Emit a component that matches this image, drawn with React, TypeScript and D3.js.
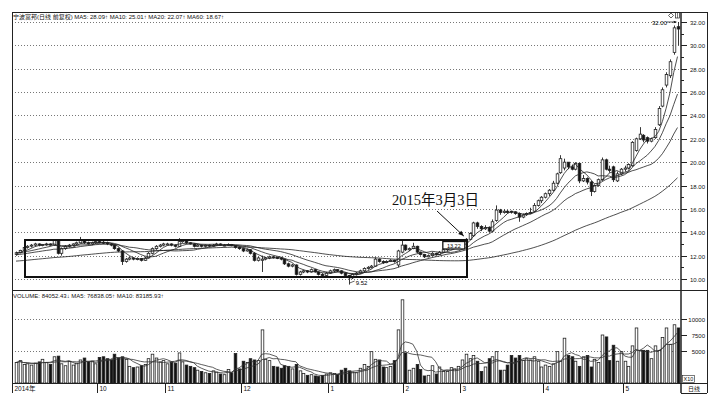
import React from "react";
import * as d3 from "d3";

// closes before the first visible bar (Jun-Aug 2014), only used to warm up the MAs
const preCloses = [
  11.0, 11.1, 11.05, 10.95, 11.0, 11.1, 11.15, 11.05, 11.1, 11.2,
  11.15, 11.1, 11.2, 11.25, 11.2, 11.15, 11.1, 11.2, 11.3, 11.25,
  11.2, 11.3, 11.35, 11.3, 11.25, 11.3, 11.4, 11.35, 11.3, 11.4,
  11.45, 11.5, 11.4, 11.35, 11.45, 11.5, 11.55, 11.5, 11.45, 11.6,
  11.7, 11.8, 11.9, 11.85, 11.95, 12.0, 11.9, 12.05, 12.1, 12.0,
  12.15, 12.2, 12.1, 12.25, 12.3, 12.2, 12.15, 12.3, 12.2,
];

// daily bars: [open, high, low, close, volume (x10)]
const sep2014 = [
  [12.1, 12.35, 12.0, 12.25, 3200], [12.25, 12.5, 12.2, 12.45, 3500], [12.45, 12.8, 12.4, 12.7, 2900],
  [12.7, 12.9, 12.6, 12.8, 3000], [12.85, 13.0, 12.7, 12.9, 2800], [12.9, 13.1, 12.8, 13.0, 3100],
  [13.0, 13.05, 12.8, 12.9, 3300], [12.9, 13.0, 12.8, 12.95, 3700], [12.95, 13.1, 12.85, 13.0, 3200],
  [13.0, 13.05, 12.85, 12.9, 2900], [12.9, 13.4, 12.85, 13.3, 4100], [13.3, 13.35, 12.1, 12.2, 4200],
  [12.2, 12.7, 12.0, 12.6, 3000], [12.6, 12.9, 12.5, 12.8, 2700], [12.8, 13.0, 12.7, 12.9, 3400],
  [12.9, 13.05, 12.8, 13.0, 2800], [13.0, 13.2, 12.9, 13.1, 3100], [13.1, 13.6, 13.05, 13.3, 3600],
  [13.3, 13.35, 13.0, 13.1, 3900], [13.1, 13.2, 12.95, 13.0, 3300], [13.0, 13.2, 12.9, 13.1, 3400],
  [13.1, 13.3, 13.0, 13.2, 3000],
];
const oct2014 = [
  [13.2, 13.3, 13.05, 13.15, 4000], [13.15, 13.25, 13.0, 13.1, 4100], [13.1, 13.2, 12.9, 13.0, 3800],
  [13.0, 13.05, 12.8, 12.9, 3600], [12.9, 12.95, 12.5, 12.6, 4500], [12.6, 12.7, 12.3, 12.4, 3900],
  [12.4, 12.45, 11.2, 11.5, 4100], [11.5, 11.8, 11.4, 11.7, 3700], [11.7, 11.9, 11.6, 11.8, 2600],
  [11.8, 11.85, 11.6, 11.7, 2400], [11.7, 11.85, 11.6, 11.75, 2500], [11.75, 11.8, 11.5, 11.6, 2700],
  [11.6, 11.9, 11.55, 11.8, 2900], [11.8, 12.3, 11.75, 12.2, 3800], [12.2, 12.7, 12.1, 12.6, 4500],
  [12.6, 12.9, 12.5, 12.8, 3900], [12.8, 13.0, 12.7, 12.9, 3300], [12.9, 13.1, 12.8, 13.0, 3500],
];
const nov2014 = [
  [13.0, 13.1, 12.9, 13.0, 3000], [13.0, 13.05, 12.8, 12.9, 3200], [12.9, 12.95, 12.7, 12.8, 3100],
  [12.8, 13.5, 12.75, 13.2, 4700], [13.2, 13.4, 13.1, 13.3, 3300], [13.3, 13.35, 13.0, 13.1, 2800],
  [13.1, 13.15, 12.95, 13.0, 2600], [13.0, 13.05, 12.7, 12.8, 2400], [12.8, 13.0, 12.75, 12.9, 2000],
  [12.9, 12.95, 12.7, 12.8, 1800], [12.8, 12.95, 12.7, 12.9, 1600], [12.9, 12.95, 12.75, 12.85, 1500],
  [12.85, 13.0, 12.8, 12.9, 1900], [12.9, 13.1, 12.85, 13.0, 1700], [13.0, 13.05, 12.85, 12.9, 1400],
  [12.9, 13.0, 12.8, 12.9, 1300], [12.9, 13.05, 12.85, 12.95, 2100], [12.95, 13.0, 12.8, 12.85, 1600],
  [12.85, 12.9, 12.6, 12.7, 4600], [12.7, 12.75, 12.5, 12.6, 2200],
];
const dec2014 = [
  [12.6, 12.6, 12.3, 12.4, 3400], [12.4, 12.6, 12.35, 12.5, 3200], [12.5, 12.55, 12.1, 12.2, 3800],
  [12.2, 12.3, 11.5, 11.6, 3600], [11.6, 11.9, 11.5, 11.8, 3500], [11.6, 12.0, 10.6, 11.7, 8300],
  [11.7, 11.9, 11.6, 11.8, 3700], [11.8, 12.0, 11.7, 11.9, 3500], [11.9, 11.95, 11.75, 11.85, 2600],
  [11.85, 11.9, 11.7, 11.8, 2500], [11.8, 11.85, 11.6, 11.7, 2300], [11.7, 11.7, 11.2, 11.3, 2700],
  [11.3, 11.4, 11.0, 11.1, 2600], [11.1, 11.3, 11.0, 11.2, 2200], [11.2, 11.25, 10.3, 10.4, 2900],
  [10.4, 10.7, 10.3, 10.6, 1900], [10.6, 10.8, 10.5, 10.7, 1500], [10.7, 10.75, 10.5, 10.6, 1200],
  [10.6, 10.9, 10.55, 10.8, 1300], [10.8, 10.85, 10.55, 10.6, 1100], [10.6, 10.65, 10.3, 10.4, 1000],
  [10.4, 10.5, 10.2, 10.3, 1200], [10.3, 10.6, 10.25, 10.5, 1400],
];
const jan2015 = [
  [10.5, 10.8, 10.45, 10.7, 1600], [10.7, 10.9, 10.6, 10.8, 1500], [10.8, 10.85, 10.6, 10.7, 1300],
  [10.7, 10.75, 10.4, 10.5, 2000], [10.5, 10.55, 10.2, 10.3, 2300], [10.3, 10.35, 9.52, 10.1, 1900],
  [10.1, 10.5, 10.0, 10.4, 1700], [10.4, 10.6, 10.3, 10.5, 1600], [10.5, 10.8, 10.45, 10.7, 2300],
  [10.7, 11.0, 10.6, 10.9, 2900], [10.9, 11.1, 10.8, 11.0, 2600], [11.0, 11.2, 10.9, 11.1, 4900],
  [11.1, 11.85, 11.05, 11.7, 3700], [11.7, 11.75, 11.4, 11.5, 3600], [11.5, 11.6, 11.3, 11.4, 2500],
  [11.4, 11.6, 11.35, 11.5, 2400], [11.5, 11.7, 11.45, 11.6, 2600], [11.6, 11.65, 11.4, 11.5, 3500],
  [11.2, 12.5, 11.0, 12.4, 8300], [12.3, 13.3, 12.2, 12.9, 13000],
];
const feb2015 = [
  [12.9, 12.95, 12.4, 12.5, 4700], [12.5, 12.7, 12.4, 12.6, 2000], [12.6, 13.1, 12.55, 12.8, 2300],
  [12.8, 12.85, 12.2, 12.3, 2900], [12.3, 12.35, 12.0, 12.1, 2100], [12.1, 12.15, 11.8, 11.9, 1100],
  [11.9, 12.1, 11.85, 12.0, 1200], [12.0, 12.3, 11.95, 12.2, 2700], [12.2, 12.25, 12.0, 12.1, 1400],
  [12.1, 12.4, 12.05, 12.3, 2500], [12.3, 12.6, 12.25, 12.5, 1800], [12.5, 12.7, 12.4, 12.6, 1800],
  [12.6, 12.8, 12.55, 12.7, 2400], [12.7, 12.9, 12.6, 12.8, 2200], [12.8, 13.0, 12.75, 12.9, 2600],
];
const mar2015 = [
  [12.9, 13.3, 12.85, 13.2, 3600], [13.2, 13.5, 13.1, 13.4, 4500], [13.4, 14.0, 13.35, 13.9, 3800],
  [13.7, 14.9, 13.6, 14.8, 4300], [14.8, 14.9, 14.3, 14.5, 3400], [14.5, 14.6, 14.1, 14.3, 1800],
  [14.3, 14.6, 14.2, 14.4, 2500], [14.4, 14.5, 14.0, 14.1, 3800], [14.1, 15.1, 14.05, 14.9, 4100],
  [15.0, 16.3, 14.9, 15.9, 4900], [15.9, 16.0, 15.5, 15.7, 2000], [15.7, 15.95, 15.6, 15.8, 2000],
  [15.8, 15.9, 15.6, 15.7, 2800], [15.8, 15.85, 15.6, 15.75, 4300], [15.75, 15.8, 15.5, 15.6, 3900],
  [15.6, 15.7, 14.9, 15.3, 4300], [15.3, 15.6, 15.2, 15.5, 3500], [15.5, 15.7, 15.4, 15.6, 3800],
  [15.6, 16.1, 15.55, 15.7, 3600], [15.8, 16.5, 15.75, 16.3, 4100], [16.3, 16.8, 16.2, 16.7, 3400],
  [16.7, 17.1, 16.5, 17.0, 2500],
];
const apr2015 = [
  [17.0, 17.4, 16.9, 17.3, 2800], [17.3, 17.7, 17.1, 17.6, 2600], [17.6, 18.4, 17.5, 18.2, 3000],
  [18.2, 19.1, 18.1, 19.0, 4900], [19.1, 20.6, 19.0, 20.3, 3400], [19.5, 20.3, 19.3, 20.0, 7000],
  [20.0, 20.0, 19.4, 19.6, 4300], [19.6, 19.8, 19.3, 19.4, 4100], [19.4, 20.0, 19.3, 19.9, 3400],
  [19.9, 19.95, 18.2, 18.4, 2600], [18.4, 18.9, 18.3, 18.6, 4100], [18.6, 18.7, 18.1, 18.3, 4300],
  [18.3, 18.4, 17.1, 17.5, 2500], [17.5, 18.1, 17.4, 18.0, 3700], [18.0, 18.6, 17.9, 18.5, 3200],
  [18.5, 20.4, 18.4, 20.2, 7500], [20.2, 20.3, 19.3, 19.4, 7200], [19.4, 19.7, 19.1, 19.3, 3500],
  [19.6, 19.7, 18.3, 18.5, 5900], [18.4, 19.2, 18.3, 19.0, 3400], [19.0, 19.5, 18.9, 19.4, 4900],
];
const may2015 = [
  [19.4, 19.7, 19.2, 19.5, 3400], [19.5, 19.9, 19.4, 19.8, 2600], [19.7, 21.8, 19.6, 21.7, 5800],
  [21.0, 22.1, 20.9, 22.0, 8600], [22.0, 23.0, 21.9, 22.4, 5100], [22.3, 22.4, 21.7, 21.9, 5100],
  [22.1, 22.2, 21.6, 21.8, 5100], [21.8, 22.1, 21.7, 22.0, 3800], [22.1, 23.0, 22.0, 22.8, 5800],
  [23.2, 24.8, 23.1, 24.6, 5100], [24.8, 26.4, 24.7, 26.2, 7100], [26.6, 27.7, 26.4, 27.5, 8600],
  [27.4, 28.8, 27.2, 28.6, 6000], [29.4, 31.7, 29.2, 31.5, 9100], [31.6, 32.0, 30.0, 31.4, 8600],
];

const months = [
  { label: "2014年", bars: sep2014 },
  { label: "10", bars: oct2014 },
  { label: "11", bars: nov2014 },
  { label: "12", bars: dec2014 },
  { label: "1", bars: jan2015 },
  { label: "2", bars: feb2015 },
  { label: "3", bars: mar2015 },
  { label: "4", bars: apr2015 },
  { label: "5", bars: may2015 },
];

const priceTicks = [10, 12, 14, 16, 18, 20, 22, 24, 26, 28, 30, 32];
const priceMinor = [11, 13, 15, 17, 19, 21, 23, 25, 27, 29, 31];
const volTicks = [5000, 7500, 10000];
const volGrid = [5000, 10000];

const title = "宁波富邦(日线 前复权) MA5: 28.09↑  MA10: 25.01↑  MA20: 22.07↑  MA60: 18.67↑";
const volTitle = "VOLUME: 84052.43↓  MA5: 76838.05↑  MA10: 83185.93↑";
const note = "2015年3月3日";
const highLabel = "32.00";
const lowLabel = "9.52";
const boxLabel = "13.22";
const noteIndex = 119; // 2015-03-03
const lowIndex = 88;
const highIndex = 175;

const SANS = "'Liberation Sans', Arial, 'Noto Sans CJK SC', sans-serif";

export default function App() {
  const svgRef = React.useRef<SVGSVGElement>(null);

  React.useEffect(() => {
    const svg = d3.select(svgRef.current);
    svg.selectAll("*").remove();

    const bars = months.flatMap((m) => m.bars);
    const n = bars.length;
    const closes = bars.map((b) => b[3]);
    const vols = bars.map((b) => b[4]);
    const all = preCloses.concat(closes);
    const off = preCloses.length;

    const left = 12, axisX = 681, right = 707, top = 12;
    const sepY = 290, dateY = 383, bottom = 393;

    const x = d3.scaleLinear().domain([0, n - 1]).range([16, 677.5]);
    const y = d3.scaleLinear().domain([10, 32]).range([279, 22]);
    const yv = d3.scaleLinear().domain([0, 10000]).range([dateY, 319]);

    const ma = (k: number) =>
      closes.map((_, i) => d3.mean(all.slice(off + i - k + 1, off + i + 1)) as number);
    const vma = (k: number) =>
      vols.map((_, i) => d3.mean(vols.slice(Math.max(0, i - k + 1), i + 1)) as number);

    svg.append("rect").attr("width", 718).attr("height", 399).attr("fill", "#fff");

    /* grid */
    const grid = svg.append("g").attr("stroke", "#777").attr("stroke-dasharray", "1,2");
    priceTicks.forEach((t) => {
      const yy = Math.round(y(t)) + 0.5;
      grid.append("line").attr("x1", left).attr("x2", axisX).attr("y1", yy).attr("y2", yy);
    });
    volGrid.forEach((t) => {
      const yy = Math.round(yv(t)) + 0.5;
      grid.append("line").attr("x1", left).attr("x2", axisX).attr("y1", yy).attr("y2", yy);
    });

    /* frame */
    const frame = svg.append("g").attr("stroke", "#222").attr("fill", "none");
    frame.append("line").attr("x1", left).attr("x2", right).attr("y1", top + 0.5).attr("y2", top + 0.5);
    frame.append("line").attr("x1", left + 0.5).attr("x2", left + 0.5).attr("y1", top).attr("y2", bottom);
    frame.append("line").attr("x1", right + 0.5).attr("x2", right + 0.5).attr("y1", top).attr("y2", bottom);
    frame.append("line").attr("x1", axisX).attr("x2", axisX).attr("y1", top).attr("y2", bottom).attr("stroke-width", 1.5);
    frame.append("line").attr("x1", left).attr("x2", right).attr("y1", sepY + 0.5).attr("y2", sepY + 0.5);
    frame.append("line").attr("x1", left).attr("x2", right).attr("y1", dateY + 0.5).attr("y2", dateY + 0.5);
    frame.append("line").attr("x1", axisX).attr("x2", right).attr("y1", bottom + 0.5).attr("y2", bottom + 0.5);

    /* candles */
    const bw = 2.6;
    const cg = svg.append("g");
    bars.forEach((b, i) => {
      const [o, h, l, c] = b;
      const cx = Math.round(x(i)) + 0.5;
      const up = c >= o;
      cg.append("line").attr("x1", cx).attr("x2", cx).attr("y1", y(h)).attr("y2", y(l))
        .attr("stroke", "#222").attr("stroke-width", 0.9);
      const y0 = y(Math.max(o, c));
      const hh = Math.max(1, y(Math.min(o, c)) - y0);
      cg.append("rect").attr("x", cx - bw / 2).attr("y", y0).attr("width", bw).attr("height", hh)
        .attr("fill", up ? "#fff" : "#111").attr("stroke", "#222").attr("stroke-width", 0.8);
    });

    /* price moving averages */
    const line = d3.line<number>().x((_, i) => x(i)).y((d) => y(d));
    [5, 10, 20, 60].forEach((k) => {
      svg.append("path").attr("d", line(ma(k))).attr("fill", "none")
        .attr("stroke", "#222").attr("stroke-width", 0.8);
    });

    /* volume */
    const vg = svg.append("g");
    bars.forEach((b, i) => {
      const up = b[3] >= b[0];
      const cx = Math.round(x(i)) + 0.5;
      vg.append("rect").attr("x", cx - bw / 2).attr("y", yv(b[4])).attr("width", bw)
        .attr("height", dateY - yv(b[4])).attr("fill", up ? "#fff" : "#111")
        .attr("stroke", "#222").attr("stroke-width", 0.8);
    });
    const vline = d3.line<number>().x((_, i) => x(i)).y((d) => yv(d));
    [5, 10].forEach((k) => {
      svg.append("path").attr("d", vline(vma(k))).attr("fill", "none")
        .attr("stroke", "#333").attr("stroke-width", 0.8);
    });

    /* annotation box and arrow */
    svg.append("rect").attr("x", 25).attr("y", 240).attr("width", 442).attr("height", 37)
      .attr("fill", "none").attr("stroke", "#111").attr("stroke-width", 2);

    const bx = x(noteIndex) - 12;
    svg.append("rect").attr("x", bx - 11).attr("y", 241.5).attr("width", 22).attr("height", 7.5)
      .attr("fill", "#fff").attr("stroke", "#111").attr("stroke-width", 1.3);
    svg.append("text").attr("x", bx).attr("y", 247.6).attr("text-anchor", "middle")
      .attr("font-family", SANS).attr("font-size", 5.5).text(boxLabel);

    svg.append("text").attr("x", 392).attr("y", 205).attr("font-family", "'Liberation Serif', 'Noto Sans CJK SC', serif")
      .attr("font-size", 14.5).attr("fill", "#111").text(note);

    const arrow = (x1: number, y1: number, x2: number, y2: number, s: number, w: number) => {
      svg.append("line").attr("x1", x1).attr("y1", y1).attr("x2", x2).attr("y2", y2)
        .attr("stroke", "#111").attr("stroke-width", w);
      const a = Math.atan2(y2 - y1, x2 - x1);
      const pts = [
        [x2, y2],
        [x2 - s * Math.cos(a - 0.4), y2 - s * Math.sin(a - 0.4)],
        [x2 - s * Math.cos(a + 0.4), y2 - s * Math.sin(a + 0.4)],
      ];
      svg.append("polygon").attr("points", pts.map((p) => p.join(",")).join(" ")).attr("fill", "#111");
    };
    arrow(437, 211, x(noteIndex) - 2, y(13.5) - 2, 6, 1);

    /* high / low markers */
    const hx = x(highIndex);
    arrow(667, y(32), hx - 1, y(32), 3, 0.7);
    svg.append("text").attr("x", 667).attr("y", y(32) + 2.5).attr("text-anchor", "end")
      .attr("font-family", SANS).attr("font-size", 6).text(highLabel);
    svg.append("path").attr("d", "M668.5,15.5 L671,13 L673.5,15.5 L671,18 Z")
      .attr("fill", "none").attr("stroke", "#222").attr("stroke-width", 0.7);
    svg.append("rect").attr("x", 675.5).attr("y", 12.5).attr("width", 4).attr("height", 5.5)
      .attr("fill", "none").attr("stroke", "#222").attr("stroke-width", 0.7);
    svg.append("line").attr("x1", 677.5).attr("x2", 677.5).attr("y1", 12.5).attr("y2", 18)
      .attr("stroke", "#222").attr("stroke-width", 0.6);

    const lx = x(lowIndex);
    svg.append("line").attr("x1", lx + 1).attr("y1", 283).attr("x2", lx + 6).attr("y2", 281)
      .attr("stroke", "#222").attr("stroke-width", 0.7);
    svg.append("text").attr("x", lx + 7).attr("y", 285).attr("font-family", SANS)
      .attr("font-size", 6).text(lowLabel);

    /* right axes */
    const ax = svg.append("g").attr("font-family", SANS).attr("font-size", 6).attr("fill", "#111");
    priceTicks.forEach((t) => {
      const yy = Math.round(y(t)) + 0.5;
      ax.append("line").attr("x1", axisX).attr("x2", axisX + 6).attr("y1", yy).attr("y2", yy).attr("stroke", "#222");
      ax.append("text").attr("x", 705).attr("y", yy + 2.2).attr("text-anchor", "end").text(t.toFixed(2));
    });
    priceMinor.forEach((t) => {
      const yy = Math.round(y(t)) + 0.5;
      ax.append("line").attr("x1", axisX).attr("x2", axisX + 3).attr("y1", yy).attr("y2", yy).attr("stroke", "#222");
    });
    volTicks.forEach((t) => {
      const yy = Math.round(yv(t)) + 0.5;
      ax.append("line").attr("x1", axisX).attr("x2", axisX + 6).attr("y1", yy).attr("y2", yy).attr("stroke", "#222");
      ax.append("text").attr("x", 705).attr("y", yy + 2.2).attr("text-anchor", "end").text(String(t));
    });
    ax.append("rect").attr("x", 682.5).attr("y", 375.5).attr("width", 12).attr("height", 7)
      .attr("fill", "none").attr("stroke", "#222").attr("stroke-width", 0.6);
    ax.append("text").attr("x", 683.5).attr("y", 381.3).attr("font-size", 5.5).text("X10");
    ax.append("text").attr("x", 694).attr("y", 391).attr("text-anchor", "middle").text("日线");

    /* titles */
    svg.append("text").attr("x", 13).attr("y", 18.5).attr("font-family", SANS)
      .attr("font-size", 6).attr("fill", "#111").text(title);
    svg.append("text").attr("x", 13).attr("y", 297.5).attr("font-family", SANS)
      .attr("font-size", 6).attr("fill", "#111").text(volTitle);

    /* date axis */
    const dg = svg.append("g").attr("font-family", SANS).attr("font-size", 6.5).attr("fill", "#111");
    let start = 0;
    months.forEach((m, k) => {
      const tx = k === 0 ? left + 0.5 : Math.round(x(start) - 2) + 0.5;
      dg.append("line").attr("x1", tx).attr("x2", tx).attr("y1", dateY).attr("y2", bottom).attr("stroke", "#222");
      dg.append("text").attr("x", tx + 2).attr("y", 391).text(m.label);
      start += m.bars.length;
    });
  }, []);

  return (
    <div style={{ position: "absolute", left: 0, top: 0 }}>
      <svg ref={svgRef} width={718} height={399} />
    </div>
  );
}
